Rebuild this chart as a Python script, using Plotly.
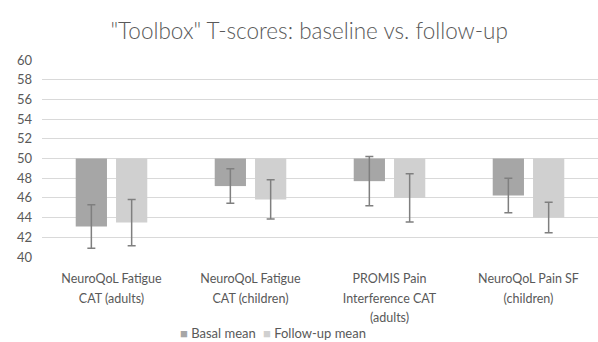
import plotly.graph_objects as go

categories = ["NeuroQoL Fatigue<br>CAT (adults)", "NeuroQoL Fatigue<br>CAT (children)",
              "PROMIS Pain<br>Interference CAT<br>(adults)", "NeuroQoL Pain SF<br>(children)"]
basal_mean = [43.1, 47.2, 47.7, 46.25]
basal_sd = [2.2, 1.75, 2.5, 1.75]
follow_mean = [43.5, 45.85, 46.0, 44.0]
follow_sd = [2.35, 2.0, 2.45, 1.55]
baseline = 50
y_ticks = list(range(40, 61, 2))

font_family = "Lato, 'Open Sans', sans-serif"
text_color = "#595959"
colors = ["#a6a6a6", "#d0d0d0"]
names = ["Basal mean", "Follow-up mean"]

# tick labels: small glyphs but wider line spacing (line spacing follows the tickfont size)
tick_text = ["<br>".join(f"<span style='font-size:12.5px'>{ln}</span>" for ln in c.split("<br>"))
             for c in categories]

fig = go.Figure()
for name, means, sds, color in [(names[0], basal_mean, basal_sd, colors[0]),
                                 (names[1], follow_mean, follow_sd, colors[1])]:
    fig.add_trace(go.Bar(
        x=categories, y=[m - baseline for m in means], base=[baseline] * len(means),
        name=name, marker=dict(color=color, line=dict(width=0)), showlegend=False,
        error_y=dict(type="data", array=sds, color="#7f7f7f", thickness=1.5, width=4),
    ))
# legend entries: colored square glyph + label, each in its own legend
for i, (name, color) in enumerate(zip(names, colors)):
    fig.add_trace(go.Scatter(
        x=[None], y=[None], mode="markers",
        name=f"<span style='color:{color}'>■</span> {name}",
        marker=dict(color="rgba(0,0,0,0)", size=1),
        legend="legend" if i == 0 else "legend2"))

legend_common = dict(orientation="h", xanchor="left", yref="container", y=0.026,
                     yanchor="middle", xref="container",
                     font=dict(size=13, color=text_color), bgcolor="rgba(0,0,0,0)")

fig.update_layout(
    width=598, height=342,
    margin=dict(l=42, r=0, t=60, b=85, autoexpand=False),
    paper_bgcolor="white", plot_bgcolor="white",
    barmode="group", bargap=0.42, bargroupgap=0.225,
    title=dict(text='"Toolbox" T-scores: baseline vs. follow-up', x=0.517, xanchor="center",
               y=0.908, yanchor="middle", font=dict(family=font_family, size=22.5, color=text_color,
                                                   weight=300)),
    font=dict(family=font_family, size=12.5, color=text_color),
    showlegend=True,
    legend=dict(x=140 / 598, **legend_common),
    legend2=dict(x=223 / 598, **legend_common),
    yaxis=dict(range=[40, 60], tickvals=y_ticks, showgrid=True, gridcolor="#d9d9d9",
               gridwidth=1, zeroline=False, showline=False, ticks="", automargin=False,
               ticklabelstandoff=9, tickfont=dict(size=13, color=text_color)),
    xaxis=dict(showgrid=False, showline=False, ticks="", automargin=False, range=[-0.5, 3.5],
               tickmode="array", tickvals=categories, ticktext=tick_text,
               ticklabelstandoff=10, tickfont=dict(size=15, color=text_color)),
)

fig.write_html("out.html", post_script="document.body.style.margin='0';",
               config={"displayModeBar": False})
